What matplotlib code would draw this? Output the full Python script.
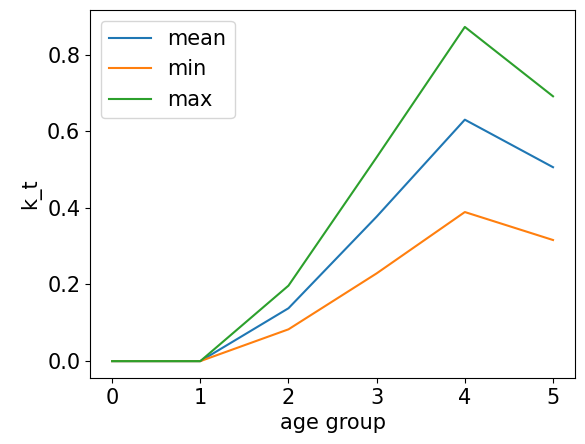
import matplotlib
matplotlib.use("Agg")
import matplotlib.pyplot as plt

age_group = [0, 1, 2, 3, 4, 5]
kt_mean = [0.0, 0.0, 0.138, 0.377, 0.630, 0.506]
kt_min = [0.0, 0.0, 0.083, 0.229, 0.389, 0.316]
kt_max = [0.0, 0.0, 0.197, 0.532, 0.872, 0.691]

plt.rcParams['font.size'] = 15
fig, ax = plt.subplots(figsize=(5.85, 4.44), dpi=100)
ax.plot(age_group, kt_mean, label="mean")
ax.plot(age_group, kt_min, label="min")
ax.plot(age_group, kt_max, label="max")
ax.set_xlabel("age group")
ax.set_ylabel("k_t")
ax.legend()
fig.subplots_adjust(left=0.154, right=0.983, top=0.977, bottom=0.149)
fig.savefig("out.png")
